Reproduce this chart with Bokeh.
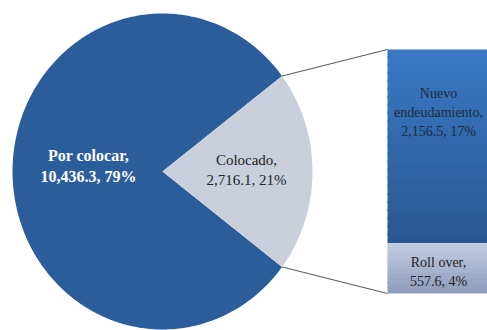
from bokeh.plotting import figure
from bokeh.models import Range1d
from bokeh.core.properties import value
from bokeh.embed import file_html
from bokeh.resources import INLINE
import numpy as np

# data
pie_labels = ["Por colocar", "Colocado"]
pie_values = [10436.3, 2716.1]
pie_pcts = ["79%", "21%"]
bar_labels = ["Nuevo endeudamiento", "Roll over"]
bar_values = [2156.5, 557.6]
bar_pcts = ["17%", "4%"]

W, H = 487, 330
p = figure(width=W, height=H, output_backend="svg", toolbar_location=None,
           x_range=Range1d(0, W), y_range=Range1d(0, H), min_border=0)
p.axis.visible = False
p.grid.visible = False
p.outline_line_color = None
p.background_fill_color = "white"
p.border_fill_color = "white"

# pie (slightly elliptical, as in the reference)
cx, cy, rx, ry = 162, 159, 150, 158
total = sum(pie_values)
frac = pie_values[1] / total
half = frac * np.pi


def slice_poly(a0, a1, n=240):
    t = np.linspace(a0, a1, n)
    xs = np.concatenate([[cx], cx + rx * np.cos(t)])
    ys = np.concatenate([[cy], cy + ry * np.sin(t)])
    return list(xs), list(ys)


xs, ys = slice_poly(half, 2 * np.pi - half)
p.patch(xs, ys, fill_color="#2b5d9b", line_color=None)
xs, ys = slice_poly(-half, half)
p.patch(xs, ys, fill_color="#c9cfdb", line_color=None)

# bar
bx0, bx1 = 387, 495
b_bot, b_top = 37, 281
k = (b_top - b_bot) / sum(bar_values)
roll_top = b_bot + bar_values[1] * k
nuevo_top = roll_top + bar_values[0] * k
n = 24
edges = np.linspace(roll_top, nuevo_top, n + 1)
c0 = np.array([0x2a, 0x57, 0x90])
c1 = np.array([0x3a, 0x7a, 0xc6])
for i in range(n):
    t = (i + 0.5) / n
    c = (c0 + (c1 - c0) * t).astype(int)
    col = "#%02x%02x%02x" % tuple(c)
    top = edges[i + 1] + (2 if i < n - 1 else 0)
    p.quad(left=bx0, right=bx1, bottom=edges[i], top=top,
           fill_color=col, line_color=None)
m = 10
edges2 = np.linspace(b_bot, roll_top, m + 1)
d0 = np.array([0x8c, 0x9c, 0xba])
d1 = np.array([0xc3, 0xce, 0xe2])
for i in range(m):
    t = (i + 0.5) / m
    c = (d0 + (d1 - d0) * t).astype(int)
    col = "#%02x%02x%02x" % tuple(c)
    top = edges2[i + 1] + (2 if i < m - 1 else 0)
    p.quad(left=bx0, right=bx1, bottom=edges2[i], top=top,
           fill_color=col, line_color=None)

# connector lines
ux, uy = cx + rx * np.cos(half), cy + ry * np.sin(half)
lx, ly = cx + rx * np.cos(-half), cy + ry * np.sin(-half)
p.segment(x0=[ux, lx], y0=[uy, ly], x1=[bx0, bx0], y1=[nuevo_top, b_bot],
          line_color="#555555", line_width=1)

font = value("Liberation Serif")


def fmt(v):
    return "{:,.1f}".format(v)


# labels
p.text(x=[88, 88], y=[H - 155, H - 176],
       text=[pie_labels[0] + ",", fmt(pie_values[0]) + ", " + pie_pcts[0]],
       text_font=font, text_font_size="16px", text_font_style="bold",
       text_color="white", text_align="center", text_baseline="middle")
p.text(x=[246, 246], y=[H - 159, H - 179],
       text=[pie_labels[1] + ",", fmt(pie_values[1]) + ", " + pie_pcts[1]],
       text_font=font, text_font_size="15px",
       text_color="#222222", text_align="center", text_baseline="middle")
p.text(x=[438, 438, 438], y=[H - 93, H - 112, H - 131],
       text=["Nuevo", "endeudamiento,", fmt(bar_values[0]) + ", " + bar_pcts[0]],
       text_font=font, text_font_size="14px",
       text_color="#1a2a40", text_align="center", text_baseline="middle")
p.text(x=[438, 438], y=[H - 262, H - 281],
       text=[bar_labels[1] + ",", fmt(bar_values[1]) + ", " + bar_pcts[1]],
       text_font=font, text_font_size="14px",
       text_color="#222222", text_align="center", text_baseline="middle")

open("out.html", "w").write(file_html(p, INLINE))
